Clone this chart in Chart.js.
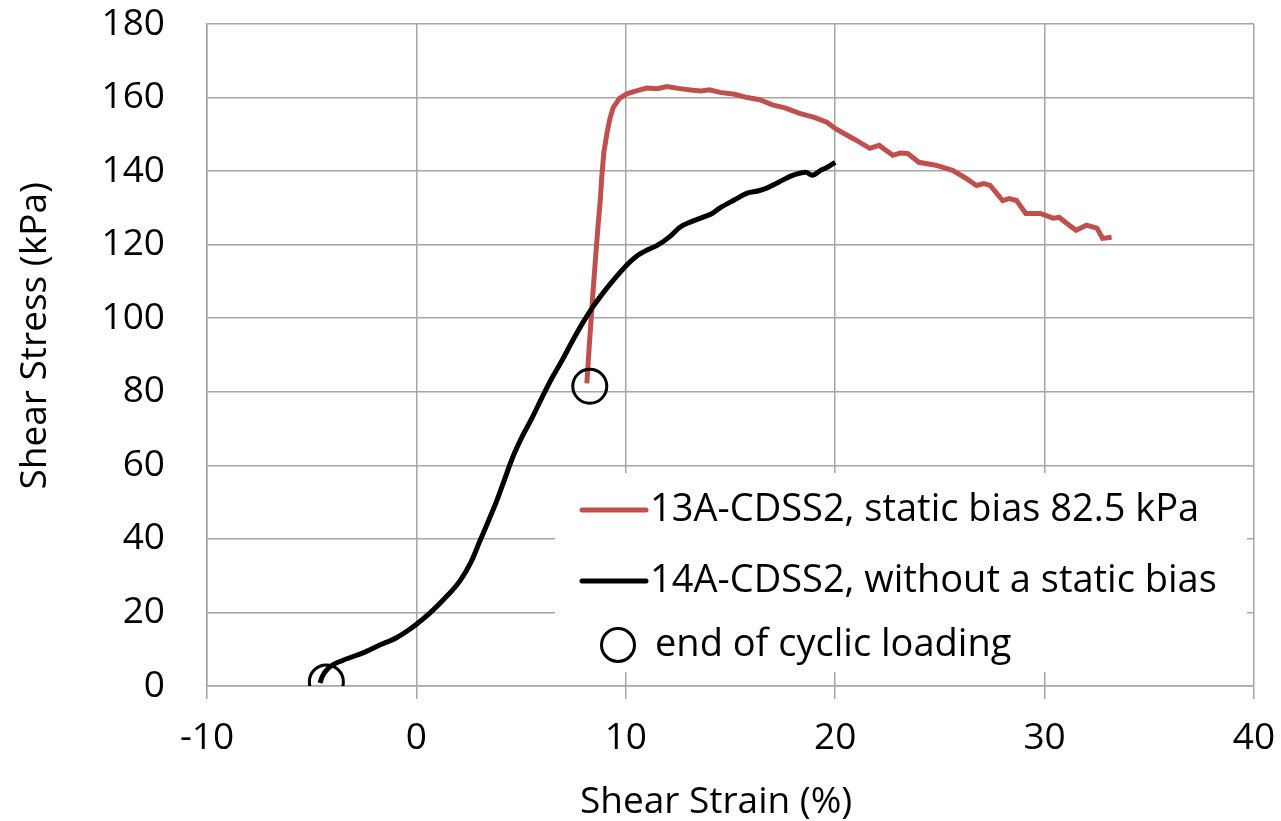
<!DOCTYPE html>
<html>
<head>
<meta charset="utf-8">
<script src="https://cdn.jsdelivr.net/npm/chart.js@4.4.1/dist/chart.umd.min.js"></script>
<style>
  html, body { margin: 0; padding: 0; background: #fff; }
  #wrap { width: 1281px; height: 821px; }
</style>
</head>
<body>
<div id="wrap"><canvas id="chart" width="1281" height="821"></canvas></div>
<script>
// 13A-CDSS2, static bias 82.5 kPa (red)
const redStrain = [8.14, 8.25, 8.43, 8.55, 8.67, 8.78, 8.85, 8.95, 9.1, 9.25, 9.4, 9.7, 10.05, 10.5, 11.0, 11.5,
  11.96, 12.5, 13.2, 13.6, 14.0, 14.5, 15.2, 15.8, 16.4, 17.0, 17.6, 18.3, 19.0, 19.6, 20.0, 20.4, 21.0,
  21.65, 22.1, 22.75, 23.1, 23.46, 24.0, 24.8, 25.6, 26.2, 26.75, 27.1, 27.4, 28.0, 28.3, 28.66, 29.1,
  29.8, 30.4, 30.7, 31.1, 31.5, 32.0, 32.5, 32.77, 33.2];
const redStress = [82.3, 92, 106.8, 116, 124.8, 132, 138.3, 145, 150.3, 154.5, 157.3, 159.8, 161, 161.8, 162.6, 162.4,
  163, 162.5, 162, 161.8, 162.1, 161.4, 160.9, 160, 159.4, 158, 157.2, 155.7, 154.6, 153.3, 151.6, 150.3, 148.4,
  146.2, 147, 144.3, 144.9, 144.8, 142.4, 141.6, 140.2, 138.2, 136.1, 136.6, 136.1, 132, 132.5, 132, 128.5,
  128.5, 127.2, 127.4, 125.6, 123.9, 125.3, 124.5, 121.7, 122];

// 14A-CDSS2, without a static bias (black)
const blackStrain = [-4.6, -4.5, -4.2, -3.5, -2.55, -1.8, -0.93, -0.3, 0.05, 0.64, 1.3, 2.08, 2.6, 3.03, 3.45, 3.84,
  4.2, 4.6, 5.05, 5.56, 6.0, 6.5, 7.0, 7.47, 7.95, 8.42, 9.0, 9.5, 10.05, 10.5, 11.0, 11.5, 12.1, 12.6, 13.1,
  13.7, 14.1, 14.5, 15.2, 15.8, 16.3, 16.7, 17.3, 18.0, 18.6, 18.9, 19.3, 19.6, 20.0];
const blackStress = [0.8, 2.5, 4.9, 7, 9, 11, 13.2, 15.5, 17, 19.8, 23.5, 28.6, 33.6, 39.4, 45, 50.4,
  56, 62.2, 67.8, 73.3, 78.5, 84, 89, 94, 98.8, 103, 107.5, 111, 114.5, 116.8, 118.5, 119.8, 122.2, 124.8, 126.2,
  127.5, 128.4, 130, 132.2, 134, 134.6, 135.3, 137, 138.9, 139.7, 138.9, 140.2, 141, 142.4];

// end of cyclic loading markers
const endStrain = [-4.3, 8.28];
const endStress = [1.1, 81.5];

const seriesLabels = ["13A-CDSS2, static bias 82.5 kPa", "14A-CDSS2, without a static bias", "end of cyclic loading"];
const xTitle = "Shear Strain (%)   ";
const yTitle = "    Shear Stress (kPa)";

const toPoints = (xs, ys) => xs.map((x, i) => ({ x: x, y: ys[i] }));

const FONT = "'Open Sans', sans-serif";
const RED = "#c0504d";
const GRID = "#a6a6a6";

// legend drawn inside the plot area on a white box
const boxLegend = {
  id: "boxLegend",
  afterDatasetsDraw(chart) {
    const ctx = chart.ctx;
    const ds = chart.data.datasets;
    ctx.save();
    ctx.fillStyle = "#fff";
    ctx.fillRect(555, 473, 692, 199);
    ctx.font = "38px " + FONT;
    ctx.textBaseline = "middle";
    ctx.textAlign = "left";
    const rows = [510, 581, 645];
    ds.forEach((d, i) => {
      const y = rows[i];
      ctx.strokeStyle = d.borderColor;
      if (d.showLine) {
        ctx.lineWidth = 5;
        ctx.lineCap = "round";
        ctx.beginPath();
        ctx.moveTo(582, y);
        ctx.lineTo(646, y);
        ctx.stroke();
        ctx.fillStyle = "#000";
        ctx.fillText(d.label, 650, y);
      } else {
        ctx.lineWidth = 3;
        ctx.beginPath();
        ctx.arc(618, y, 16.5, 0, Math.PI * 2);
        ctx.stroke();
        ctx.fillStyle = "#000";
        ctx.fillText(d.label, 655, y);
      }
    });
    ctx.restore();
  }
};

new Chart(document.getElementById("chart").getContext("2d"), {
  type: "scatter",
  data: {
    datasets: [
      {
        label: seriesLabels[0],
        data: toPoints(redStrain, redStress),
        showLine: true,
        borderColor: RED,
        borderWidth: 5,
        pointRadius: 0,
        tension: 0,
        order: 2
      },
      {
        label: seriesLabels[1],
        data: toPoints(blackStrain, blackStress),
        showLine: true,
        borderColor: "#000",
        borderWidth: 5,
        pointRadius: 0,
        cubicInterpolationMode: "monotone",
        order: 1
      },
      {
        label: seriesLabels[2],
        data: toPoints(endStrain, endStress),
        showLine: false,
        borderColor: "#000",
        backgroundColor: "rgba(0,0,0,0)",
        pointStyle: "circle",
        pointRadius: 17,
        pointBorderWidth: 3,
        order: 0
      }
    ]
  },
  options: {
    responsive: false,
    animation: false,
    layout: { padding: { left: 0, top: 24, right: 27, bottom: 0 } },
    plugins: {
      legend: { display: false },
      tooltip: { enabled: false }
    },
    scales: {
      x: {
        type: "linear",
        min: -10,
        max: 40,
        afterFit: (s) => { s.height = 135; s.paddingLeft = 0; s.paddingRight = 0; },
        ticks: { stepSize: 10, color: "#000", font: { family: FONT, size: 37 }, padding: 17 },
        grid: { color: GRID, lineWidth: 1.5, tickLength: 13 },
        border: { color: GRID, width: 1.5 },
        title: { display: true, text: xTitle, color: "#000", font: { family: FONT, size: 37 }, padding: { bottom: -4 } }
      },
      y: {
        type: "linear",
        min: 0,
        max: 180,
        afterFit: (s) => { s.width = 207; s.paddingTop = 0; s.paddingBottom = 0; },
        ticks: { stepSize: 20, color: "#000", font: { family: FONT, size: 37 }, padding: 42 },
        grid: { color: GRID, lineWidth: 1.5, drawTicks: false },
        border: { color: GRID, width: 1.5 },
        title: { display: true, text: yTitle, color: "#000", font: { family: FONT, size: 37 }, padding: { top: 13 } }
      }
    }
  },
  plugins: [boxLegend]
});
</script>
</body>
</html>
